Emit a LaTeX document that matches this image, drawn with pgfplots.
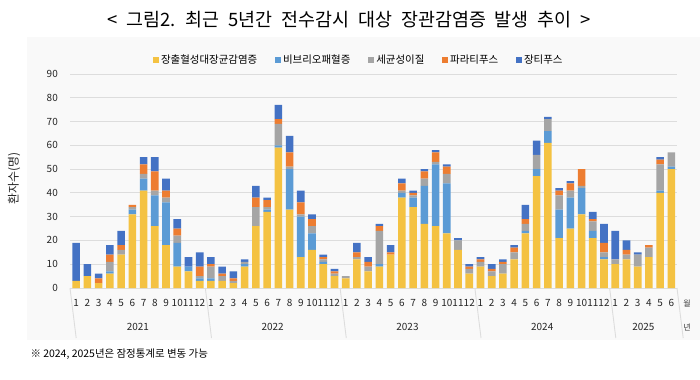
\documentclass[border=0pt]{standalone}
\usepackage{pgfplots}
\pgfplotsset{compat=1.18}
\usepackage{pgfplotstable}
\usepackage{fontspec}
\setmainfont{Noto Sans CJK KR}
\definecolor{cY}{HTML}{F4C242}
\definecolor{cV}{HTML}{5B9BD5}
\definecolor{cG}{HTML}{A5A5A5}
\definecolor{cP}{HTML}{ED7D31}
\definecolor{cT}{HTML}{4472C4}
\definecolor{gridc}{HTML}{DDDDDD}
\definecolor{bgc}{HTML}{F9F9F9}
\newcommand\fs[1]{\fontsize{#1}{#1}\selectfont}

% columns: Y=장출혈성대장균감염증 V=비브리오패혈증 G=세균성이질 P=파라티푸스 T=장티푸스
\pgfplotstableread{
x Y V G P T
0 3 0 0 0 16
1 5 0 0 0 5
2 2 0 0 2 2
3 6 1 4 3 4
4 14 0 2 2 6
5 31 2 1 1 0
6 41 5 2 4 3
7 26 13 2 8 6
8 18 18 2 3 5
9 9 10 3 3 4
10 7 2 0 0 4
11 3 1 1 4 6
12 3 1 5 1 3
13 3 0 2 1 3
14 2 0 1 1 3
15 9 1 1 0 1
16 26 0 8 4 5
17 32 1 1 3 1
18 59 1 9 2 6
19 33 17 1 6 7
20 13 17 1 5 5
21 16 7 3 3 2
22 10 1 1 1 1
23 5 0 1 1 1
24 4 0 1 0 0
25 12 0 1 2 4
26 7 0 2 2 2
27 9 1 14 2 1
28 14 0 0 1 3
29 38 2 1 3 2
30 34 4 1 1 1
31 27 16 3 3 1
32 26 26 1 4 1
33 23 21 4 3 1
34 16 0 4 0 1
35 6 0 2 1 1
36 9 0 2 1 1
37 5 0 2 1 2
38 6 0 4 1 1
39 12 0 3 2 1
40 23 1 3 2 6
41 47 3 6 0 6
42 61 5 5 0 1
43 21 12 6 2 1
44 25 13 3 3 1
45 31 11 1 7 0
46 21 3 4 1 3
47 12 1 2 4 8
48 10 0 2 0 12
49 12 0 2 2 4
50 9 0 5 0 1
51 13 0 4 1 0
52 40 1 11 2 1
53 50 1 6 0 0
}\data

\begin{document}
\begin{tikzpicture}[x=1bp,y=1bp]
\useasboundingbox (0,0) rectangle (700,379);
\fill[bgc] (27,39) rectangle (700,342);
\node[font=\fs{18.5}] at (349,359) {\spaceskip=0.48em < 그림2. 최근 5년간 전수감시 대상 장관감염증 발생 추이 >};
\node[font=\fs{12},rotate=90,text=black!85] at (14,201) {환자수(명)};
\node[font=\fs{10.5},anchor=west] at (27,25) {※ 2024, 2025년은 잠정통계로 변동 가능};
\begin{axis}[
  at={(70bp,91bp)}, anchor=south west,
  scale only axis, width=607bp, height=214bp,
  ybar stacked, bar width=7.6bp,
  xmin=-0.55, xmax=53.5, ymin=0, ymax=90,
  ytick={0,10,...,90},
  xtick={0,...,53},
  xticklabels={1,2,3,4,5,6,7,8,9,10,11,12,1,2,3,4,5,6,7,8,9,10,11,12,1,2,3,4,5,6,7,8,9,10,11,12,1,2,3,4,5,6,7,8,9,10,11,12,1,2,3,4,5,6},
  /pgf/number format/assume math mode=true,
  ymajorgrids, grid style={draw=gridc, line width=0.9bp},
  axis line style={draw=none},
  major tick length=0pt,
  tick label style={font=\fs{10}, text=black!85},
  xticklabel style={inner sep=0pt, yshift=-11bp},
  yticklabel style={inner sep=0pt, xshift=-12bp},
  clip=false,
  legend columns=5,
  legend style={draw=none, fill=none, font=\fs{10.5}, at={(axis description cs:0.476,1.065)}, anchor=center,
    /tikz/every even column/.append style={column sep=16bp}},
  legend image code/.code={\fill[#1] (0bp,-2.8bp) rectangle (5.8bp,2.8bp);},
]
\addplot[fill=cY, draw=none] table[x=x,y=Y]{\data};
\addlegendentry{장출혈성대장균감염증}
\addplot[fill=cV, draw=none] table[x=x,y=V]{\data};
\addlegendentry{비브리오패혈증}
\addplot[fill=cG, draw=none] table[x=x,y=G]{\data};
\addlegendentry{세균성이질}
\addplot[fill=cP, draw=none] table[x=x,y=P]{\data};
\addlegendentry{파라티푸스}
\addplot[fill=cT, draw=none] table[x=x,y=T]{\data};
\addlegendentry{장티푸스}
\foreach \xs in {-0.55,11.5,23.5,35.5,47.5,53.5} {
  \edef\tmp{\noexpand\draw[gridc, line width=0.9bp] (axis cs:\xs,0) -- ++(0,-50bp);}\tmp
}
\node[font=\fs{10}, text=black!85] at (axis cs:5.5,0) [yshift=-39bp] {2021};
\node[font=\fs{10}, text=black!85] at (axis cs:17.5,0) [yshift=-39bp] {2022};
\node[font=\fs{10}, text=black!85] at (axis cs:29.5,0) [yshift=-39bp] {2023};
\node[font=\fs{10}, text=black!85] at (axis cs:41.5,0) [yshift=-39bp] {2024};
\node[font=\fs{10}, text=black!85] at (axis cs:50.5,0) [yshift=-39bp] {2025};
\node[font=\fs{8}, text=black!80] at (axis cs:54.4,0) [yshift=-15bp] {월};
\node[font=\fs{8}, text=black!80] at (axis cs:54.4,0) [yshift=-39bp] {년};
\end{axis}
\end{tikzpicture}
\end{document}
